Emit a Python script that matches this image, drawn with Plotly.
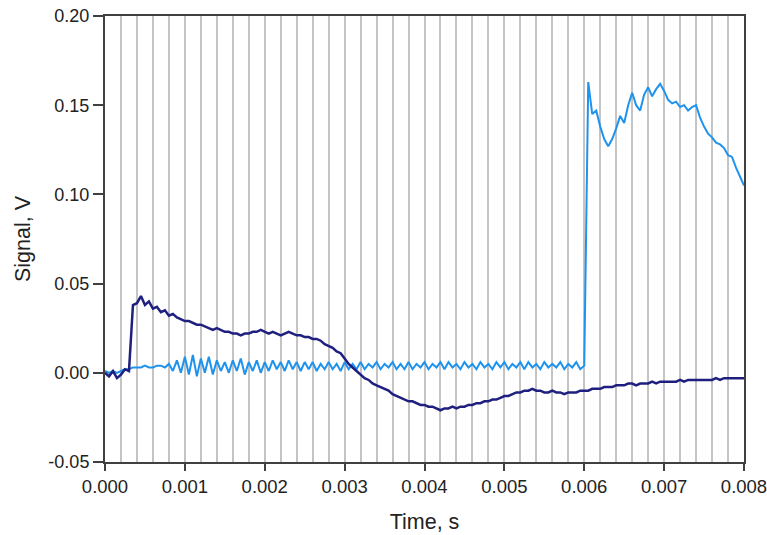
import numpy as np
import plotly.graph_objects as go

# time samples, s (0 .. 8 ms, every 0.05 ms)
time_s = np.round(np.arange(161) * 0.00005, 5)

# dark (navy) signal, V
signal_dark = [
    0.000, -0.002, 0.001, -0.003, -0.001, 0.002, 0.001, 0.038, 0.039, 0.043,
    0.038, 0.040, 0.036, 0.037, 0.034, 0.035, 0.032, 0.033, 0.031, 0.030,
    0.029, 0.029, 0.028, 0.027, 0.027, 0.026, 0.025, 0.024, 0.025, 0.024,
    0.023, 0.023, 0.022, 0.022, 0.021, 0.022, 0.022, 0.023, 0.023, 0.024,
    0.023, 0.022, 0.023, 0.022, 0.021, 0.022, 0.023, 0.022, 0.021, 0.021,
    0.020, 0.020, 0.019, 0.019, 0.018, 0.016, 0.015, 0.014, 0.012, 0.011,
    0.008, 0.005, 0.003, 0.001, -0.001, -0.003, -0.004, -0.006, -0.007, -0.008,
    -0.009, -0.010, -0.012, -0.013, -0.014, -0.015, -0.016, -0.016, -0.017, -0.018,
    -0.018, -0.019, -0.019, -0.020, -0.021, -0.020, -0.020, -0.019, -0.020, -0.019,
    -0.019, -0.018, -0.018, -0.017, -0.017, -0.016, -0.016, -0.015, -0.015, -0.014,
    -0.013, -0.013, -0.012, -0.011, -0.011, -0.010, -0.010, -0.009, -0.010, -0.010,
    -0.011, -0.011, -0.010, -0.011, -0.011, -0.012, -0.011, -0.011, -0.011, -0.010,
    -0.010, -0.010, -0.009, -0.009, -0.009, -0.008, -0.008, -0.008, -0.007, -0.007,
    -0.007, -0.006, -0.006, -0.007, -0.006, -0.006, -0.006, -0.005, -0.006, -0.005,
    -0.005, -0.005, -0.005, -0.005, -0.004, -0.005, -0.004, -0.004, -0.004, -0.004,
    -0.004, -0.004, -0.004, -0.003, -0.004, -0.003, -0.003, -0.003, -0.003, -0.003,
    -0.003,
]

# light blue signal, V
signal_light = [
    0.001, 0.000, 0.001, 0.000, 0.001, 0.002, 0.002, 0.003, 0.003, 0.003,
    0.004, 0.003, 0.003, 0.004, 0.004, 0.003, 0.005, 0.001, 0.007, 0.000,
    0.009, -0.001, 0.010, -0.002, 0.008, 0.000, 0.009, -0.001, 0.007, 0.001,
    0.006, 0.000, 0.007, 0.001, 0.008, -0.001, 0.006, 0.001, 0.007, 0.000,
    0.006, 0.001, 0.007, 0.002, 0.006, 0.001, 0.007, 0.002, 0.006, 0.001,
    0.006, 0.002, 0.006, 0.001, 0.005, 0.002, 0.006, 0.002, 0.005, 0.001,
    0.006, 0.002, 0.005, 0.002, 0.006, 0.002, 0.005, 0.003, 0.006, 0.002,
    0.005, 0.003, 0.006, 0.002, 0.005, 0.002, 0.006, 0.002, 0.005, 0.003,
    0.006, 0.002, 0.005, 0.003, 0.006, 0.002, 0.006, 0.003, 0.005, 0.002,
    0.006, 0.003, 0.005, 0.002, 0.006, 0.003, 0.005, 0.002, 0.006, 0.003,
    0.006, 0.002, 0.005, 0.003, 0.006, 0.002, 0.006, 0.003, 0.005, 0.002,
    0.006, 0.003, 0.005, 0.003, 0.006, 0.002, 0.005, 0.003, 0.006, 0.002,
    0.004, 0.163, 0.145, 0.147, 0.138, 0.131, 0.127, 0.131, 0.137, 0.144,
    0.140, 0.150, 0.157, 0.150, 0.147, 0.156, 0.160, 0.155, 0.159, 0.162,
    0.158, 0.153, 0.151, 0.152, 0.149, 0.150, 0.147, 0.149, 0.150, 0.143,
    0.138, 0.134, 0.132, 0.129, 0.128, 0.126, 0.122, 0.121, 0.115, 0.110,
    0.105,
]

x_ticks = [0.000, 0.001, 0.002, 0.003, 0.004, 0.005, 0.006, 0.007, 0.008]
y_ticks = [-0.05, 0.00, 0.05, 0.10, 0.15, 0.20]

font_family = "Liberation Sans, Arial, sans-serif"

fig = go.Figure()
fig.add_trace(go.Scatter(x=time_s, y=signal_light, mode="lines",
                         line=dict(color="#1e93ee", width=2), showlegend=False))
fig.add_trace(go.Scatter(x=time_s, y=signal_dark, mode="lines",
                         line=dict(color="#1f1f80", width=2.5), showlegend=False))

fig.update_layout(
    width=767, height=535,
    margin=dict(l=105, r=23, t=16, b=73),
    paper_bgcolor="white", plot_bgcolor="white",
    font=dict(family=font_family, color="#222222"),
)
fig.update_xaxes(
    range=[0, 0.008], tickvals=x_ticks, ticktext=[f"{v:.3f}" for v in x_ticks],
    automargin=False, ticklabeloverflow="allow",
    showgrid=True, gridcolor="#c4c4c4", gridwidth=1.5,
    minor=dict(dtick=0.0002, tick0=0, showgrid=True, gridcolor="#c4c4c4", gridwidth=1.5, ticks=""),
    showline=True, linecolor="#404040", linewidth=2, mirror=True,
    ticks="outside", ticklen=7, tickwidth=1.5, tickcolor="#404040",
    tickfont=dict(size=18.5), zeroline=False,
    title=dict(text="Time, s", font=dict(size=21.5), standoff=18),
)
fig.update_yaxes(
    range=[-0.05, 0.20], tickvals=y_ticks, ticktext=[f"{v:.2f}" for v in y_ticks],
    automargin=False, ticklabeloverflow="allow",
    showgrid=False, zeroline=False,
    showline=True, linecolor="#404040", linewidth=2, mirror=True,
    ticks="outside", ticklen=10, tickwidth=1.5, tickcolor="#404040",
    tickfont=dict(size=18),
    title=dict(text="Signal, V", font=dict(size=21.5), standoff=12),
)

fig.write_html("out.html")
